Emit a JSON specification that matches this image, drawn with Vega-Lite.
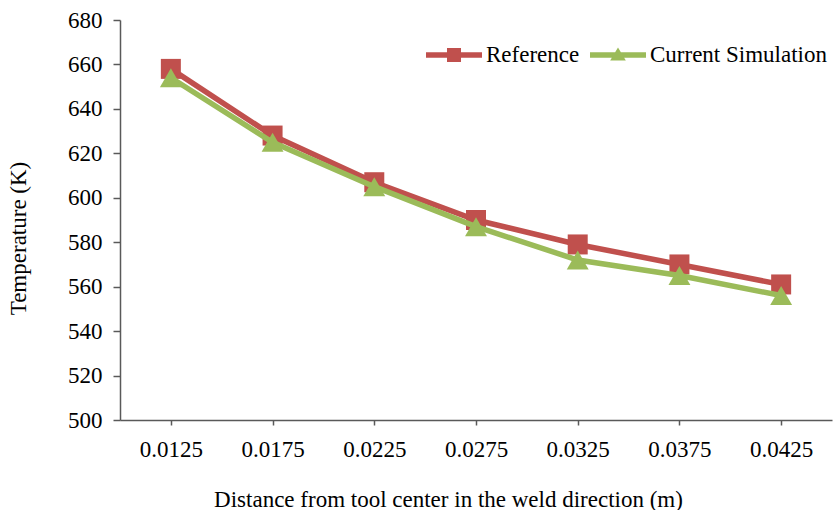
{
  "$schema": "https://vega.github.io/schema/vega-lite/v6.json",
  "width": 712,
  "height": 400,
  "autosize": "none",
  "padding": {"left": 120, "top": 20, "right": 3, "bottom": 90},
  "background": "white",
  "config": {
    "font": "Liberation Serif",
    "view": {"stroke": null},
    "axis": {
      "grid": false,
      "labelFont": "Liberation Serif",
      "titleFont": "Liberation Serif",
      "labelFontSize": 23,
      "titleFontSize": 23,
      "labelColor": "black",
      "titleColor": "black",
      "titleFontWeight": "normal",
      "domainColor": "#595959",
      "tickColor": "#595959",
      "domainWidth": 1.5,
      "tickWidth": 1.5
    }
  },
  "data": {
    "values": [
      {"x": "0.0125", "s": "Reference", "t": 658},
      {"x": "0.0175", "s": "Reference", "t": 628},
      {"x": "0.0225", "s": "Reference", "t": 607},
      {"x": "0.0275", "s": "Reference", "t": 590},
      {"x": "0.0325", "s": "Reference", "t": 579},
      {"x": "0.0375", "s": "Reference", "t": 570},
      {"x": "0.0425", "s": "Reference", "t": 561},
      {"x": "0.0125", "s": "Current Simulation", "t": 654},
      {"x": "0.0175", "s": "Current Simulation", "t": 625},
      {"x": "0.0225", "s": "Current Simulation", "t": 605},
      {"x": "0.0275", "s": "Current Simulation", "t": 587},
      {"x": "0.0325", "s": "Current Simulation", "t": 572},
      {"x": "0.0375", "s": "Current Simulation", "t": 565},
      {"x": "0.0425", "s": "Current Simulation", "t": 556}
    ]
  },
  "encoding": {
    "x": {
      "field": "x",
      "type": "ordinal",
      "sort": ["0.0125", "0.0175", "0.0225", "0.0275", "0.0325", "0.0375", "0.0425"],
      "scale": {"padding": 0.5},
      "axis": {
        "labelAngle": 0,
        "labelFont": "Liberation Serif",
        "labelFontSize": 23,
        "labelColor": "black",
        "tickSize": 5,
        "labelPadding": 13,
        "title": "Distance from tool center in the weld direction (m)",
        "titleFont": "Liberation Serif",
        "titleX": 328,
        "titleY": 86,
        "titleAlign": "center",
        "titleBaseline": "alphabetic",
        "titleAnchor": null
      }
    },
    "y": {
      "field": "t",
      "type": "quantitative",
      "scale": {"domain": [500, 680], "nice": false, "zero": false},
      "axis": {
        "values": [500, 520, 540, 560, 580, 600, 620, 640, 660, 680],
        "labelFont": "Liberation Serif",
        "labelFontSize": 23,
        "labelColor": "black",
        "tickSize": 7,
        "labelPadding": 11,
        "title": "Temperature (K)",
        "titleFont": "Liberation Serif",
        "titleAngle": -90,
        "titleX": -102,
        "titleY": 218,
        "titleAlign": "center",
        "titleBaseline": "middle",
        "titleAnchor": null
      }
    },
    "color": {
      "field": "s",
      "type": "nominal",
      "scale": {"domain": ["Reference", "Current Simulation"], "range": ["#C0504D", "#9BBB59"]},
      "legend": {
        "orient": "none",
        "legendX": 306,
        "legendY": 7,
        "direction": "horizontal",
        "title": null,
        "padding": 0,
        "labelFont": "Liberation Serif",
        "labelFontSize": 23,
        "labelColor": "black",
        "labelLimit": 0,
        "labelOffset": 4,
        "columnPadding": 10,
        "symbolSize": 3136,
        "encode": {
          "symbols": {
            "update": {
              "shape": {"signal": "datum.value === 'Reference' ? 'M-1,-0.1H1V0.1H-1Z M-0.25,-0.25H0.25V0.25H-0.25Z' : 'M-1,-0.1H1V0.1H-1Z M-0.28,0.2L0,-0.27L0.28,0.2Z'"},
              "fill": {"signal": "datum.value === 'Reference' ? '#C0504D' : '#9BBB59'"},
              "stroke": {"value": "transparent"},
              "strokeWidth": {"value": 0},
              "opacity": {"value": 1},
              "size": {"value": 3136}
            }
          }
        }
      }
    }
  },
  "layer": [
    {"transform": [{"filter": "datum.s === 'Reference'"}], "mark": {"type": "line", "strokeWidth": 5.5}},
    {"transform": [{"filter": "datum.s === 'Reference'"}], "mark": {"type": "point", "shape": "square", "filled": true, "size": 400, "opacity": 1}},
    {"transform": [{"filter": "datum.s === 'Current Simulation'"}], "mark": {"type": "line", "strokeWidth": 5.5}},
    {"transform": [{"filter": "datum.s === 'Current Simulation'"}], "mark": {"type": "point", "shape": "triangle-up", "filled": true, "size": 480, "opacity": 1}}
  ]
}
